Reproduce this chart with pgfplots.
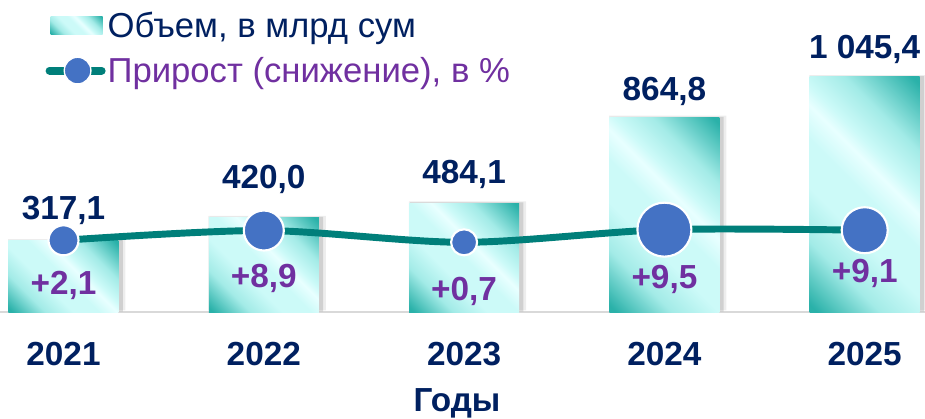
\documentclass[border=0pt]{standalone}
\usepackage{pgfplots}
\usepackage{pgfplotstable}
\pgfplotsset{compat=1.18}
\usepackage{fontspec}
\setmainfont{Liberation Sans}
\definecolor{navy}{HTML}{002060}
\definecolor{purp}{HTML}{7030A0}
\definecolor{lineC}{HTML}{007F7A}
\definecolor{dotC}{HTML}{4472C4}
\definecolor{tealC}{HTML}{2AB1A9}
\definecolor{cyanM}{HTML}{A3EBE7}
\definecolor{cyanL}{HTML}{CCFAF8}
\definecolor{streak}{HTML}{E8FFFF}
\definecolor{grayL}{HTML}{D9D9D9}
\pgfdeclarehorizontalshading{barshade}{100bp}{color(0bp)=(tealC); color(16bp)=(tealC); color(29bp)=(cyanM); color(40bp)=(cyanL); color(50bp)=(cyanL); color(57bp)=(streak); color(61bp)=(cyanL); color(70bp)=(cyanM); color(84bp)=(tealC); color(100bp)=(tealC)}
\pgfplotstableread{
x p r dy lab
0 2.1 11.25 40.3 +2,1
1 8.9 15.0 43.1 +8,9
2 0.7 9.75 43.3 +0,7
3 9.5 20.25 43.8 +9,5
4 9.1 17.25 38.9 +9,1
}\pctdata
\pgfplotstableread{
x v
0 317.1
1 420.0
2 484.1
3 864.8
4 1045.4
}\voldata
\newcommand{\bigfont}{\fontsize{25}{30}\selectfont}
\begin{document}
\begin{tikzpicture}
\pgfplotsset{
 barsty/.style={ybar, bar width=82.5pt, bar shift=0pt, draw=none,
   shading=barshade, shading angle=45,
   forget plot,
   every node near coord/.append style={anchor=base, font=\bigfont\bfseries, text=navy}},
}
\begin{axis}[
 width=693.75pt, height=234pt, scale only axis,
 xmin=-0.317, xmax=4.301, ymin=0, ymax=1386,
 axis y line=none,
 axis x line*=bottom,
 x axis line style={-, draw=grayL, line width=2pt},
 xtick={0,1,2,3,4},
 xticklabels={2021,2022,2023,2024,2025},
 major tick length=0pt,
 xticklabel style={font=\bigfont\bfseries, text=navy, anchor=base, yshift=-39.75pt},
 xlabel={Годы},
 xlabel style={font=\bigfont\bfseries, text=navy, at={(axis description cs:0.494,0)}, anchor=base, yshift=-74.25pt},
 legend style={at={(0,1)}, anchor=north west, xshift=34pt, yshift=-7pt, draw=none, fill=none,
   font=\fontsize{26}{31}\selectfont, inner sep=0pt, row sep=10.5pt, nodes={inner sep=1.5pt}},
 legend cell align=left,
 clip=false,
]
\addlegendimage{legend image code/.code={\path[draw=none, shading=barshade, shading angle=45] (3.75pt,-6.75pt) rectangle (42.75pt,6.75pt);}}
\addlegendentry{\textcolor{navy}{Объем, в млрд сум}}
\addlegendimage{legend image code/.code={\draw[lineC, line width=6pt, line cap=round] (3pt,0) -- (42pt,0); \filldraw[fill=dotC, draw=white, line width=1pt] (24pt,0) circle (10pt);}}
\addlegendentry{\textcolor{purp}{Прирост (снижение), в \%}}
% soft shadows
\addplot[ybar, bar width=88pt, bar shift=2.5pt, yshift=1.2pt, draw=none, fill=black, fill opacity=0.07, forget plot] table[x=x, y=v] {\voldata};
\addplot[ybar, bar width=85pt, bar shift=2pt, yshift=0.4pt, draw=none, fill=black, fill opacity=0.12, forget plot] table[x=x, y=v] {\voldata};
\addplot[barsty, nodes near coords={317,1}, every node near coord/.append style={yshift=15.75pt}] coordinates {(0,317.1)};
\addplot[barsty, nodes near coords={420,0}, every node near coord/.append style={yshift=22pt}] coordinates {(1,420.0)};
\addplot[barsty, nodes near coords={484,1}, every node near coord/.append style={yshift=15pt}] coordinates {(2,484.1)};
\addplot[barsty, nodes near coords={864,8}, every node near coord/.append style={yshift=12.75pt}] coordinates {(3,864.8)};
\addplot[barsty, nodes near coords={1 045,4}, every node near coord/.append style={yshift=13.5pt}] coordinates {(4,1045.4)};
\coordinate (BL) at (rel axis cs:0,0);
\coordinate (TR) at (rel axis cs:1,1);
\end{axis}
\begin{axis}[
 width=693.75pt, height=234pt, scale only axis,
 xmin=-0.317, xmax=4.301, ymin=-47.7, ymax=169,
 hide axis, clip=false,
]
\addplot[smooth, tension=0.5, line width=5.2pt, lineC, no marks] table[x=x, y=p] {\pctdata};
\addplot[scatter, only marks, mark=*,
  scatter/use mapped color={draw=white, fill=dotC},
  mark options={line width=1.6pt},
  point meta=\thisrow{r},
  visualization depends on={\thisrow{r}\as\rad},
  scatter/@pre marker code/.append style={/tikz/mark size=\rad pt},
] table[x=x, y=p] {\pctdata};
\addplot[draw=none, no marks,
  point meta=explicit symbolic,
  visualization depends on={\thisrow{dy}\as\dyv},
  nodes near coords,
  every node near coord/.append style={anchor=base, yshift=-\dyv pt, font=\bigfont\bfseries, text=purp},
] table[x=x, y=p, meta=lab] {\pctdata};
\end{axis}
\pgfresetboundingbox
\path[use as bounding box] ([yshift=-79.5pt]BL) rectangle (TR);
\end{tikzpicture}
\end{document}
